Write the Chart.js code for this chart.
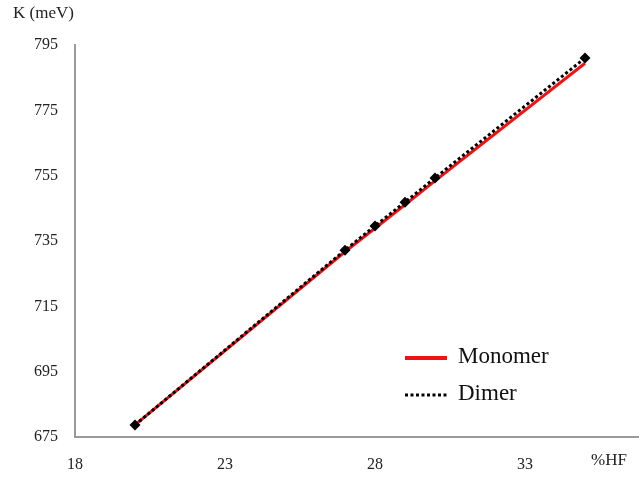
<!DOCTYPE html>
<html>
<head>
<meta charset="utf-8">
<script src="https://cdn.jsdelivr.net/npm/chart.js@4"></script>
<style>
  html, body { margin: 0; padding: 0; background: #fff; }
  #wrap { width: 639px; height: 478px; }
</style>
</head>
<body>
<div id="wrap"><canvas id="myChart" width="639" height="478"></canvas></div>
<script>
const hfPercent = [20, 27, 28, 29, 30, 35];
const monomerK = [678.7, 731.7, 738.9, 746.1, 753.4, 789.4];
const dimerK = [678.7, 732.2, 739.6, 746.9, 754.3, 791.0];
const seriesNames = ["Monomer", "Dimer"];
const xTicks = [18, 23, 28, 33];
const yTicks = [675, 695, 715, 735, 755, 775, 795];

const serif = "'Liberation Serif', 'Times New Roman', serif";

function toPoints(xs, ys) {
  return xs.map((x, i) => ({ x: x, y: ys[i] }));
}

// axis captions and the legend inside the plot
const textPlugin = {
  id: "textPlugin",
  afterDraw(chart) {
    const ctx = chart.ctx;
    ctx.save();
    ctx.fillStyle = "#222";
    ctx.font = "17px " + serif;
    ctx.textBaseline = "middle";
    ctx.textAlign = "left";
    ctx.fillText("K (meV)", 13, 14);
    ctx.fillText("%HF", 591, 461);

    const sets = chart.data.datasets;
    const rows = [358, 395];
    sets.forEach((ds, i) => {
      const y = rows[i];
      ctx.beginPath();
      ctx.strokeStyle = ds.borderColor;
      ctx.lineWidth = i === 0 ? 4 : ds.borderWidth;
      ctx.setLineDash(ds.borderDash || []);
      ctx.moveTo(405, y);
      ctx.lineTo(447, y);
      ctx.stroke();
      ctx.setLineDash([]);
      ctx.fillStyle = "#111";
      ctx.font = "23px " + serif;
      ctx.fillText(ds.label, 458, y - 1);
    });
    ctx.restore();
  },
};

const ctx = document.getElementById("myChart").getContext("2d");
const myChart = new Chart(ctx, {
  type: "scatter",
  data: {
    datasets: [
      {
        label: seriesNames[0],
        data: toPoints(hfPercent, monomerK),
        showLine: true,
        borderColor: "rgb(240, 18, 18)",
        borderWidth: 3,
        pointRadius: 0,
        order: 1,
      },
      {
        label: seriesNames[1],
        data: toPoints(hfPercent, dimerK),
        showLine: true,
        borderColor: "#000",
        backgroundColor: "#000",
        borderWidth: 3,
        borderDash: [3, 2.5],
        pointStyle: "rectRot",
        pointRadius: 5.5,
        pointBorderWidth: 0,
        order: 0,
      },
    ],
  },
  options: {
    responsive: false,
    animation: false,
    layout: { autoPadding: false, padding: { top: 45, right: 0, left: 0, bottom: 0 } },
    plugins: {
      legend: { display: false },
      tooltip: { enabled: false },
    },
    scales: {
      x: {
        type: "linear",
        min: 18,
        max: 36.8,
        afterBuildTicks: (scale) => {
          scale.ticks = xTicks.map((v) => ({ value: v }));
        },
        afterFit: (scale) => {
          scale.height = 41;
        },
        grid: { display: false, drawTicks: false },
        border: { display: true, color: "#9a9a9a", width: 2 },
        ticks: {
          padding: 18,
          color: "#222",
          font: { family: serif, size: 16 },
        },
      },
      y: {
        min: 675,
        max: 795,
        afterBuildTicks: (scale) => {
          scale.ticks = yTicks.map((v) => ({ value: v }));
        },
        afterFit: (scale) => {
          scale.width = 75;
        },
        grid: { display: false, drawTicks: false },
        border: { display: true, color: "#9a9a9a", width: 2 },
        ticks: {
          padding: 17,
          color: "#222",
          font: { family: serif, size: 16 },
        },
      },
    },
  },
  plugins: [textPlugin],
});
</script>
</body>
</html>
